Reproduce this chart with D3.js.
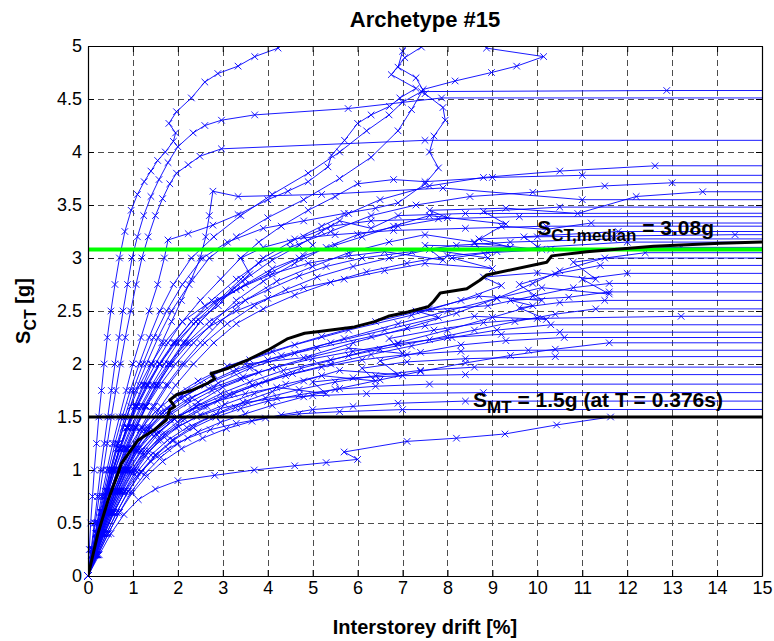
<!DOCTYPE html>
<html>
<head>
<meta charset="utf-8">
<script src="https://cdn.jsdelivr.net/npm/d3@7"></script>
<style>
  body { margin: 0; background: #fff; }
  svg { display: block; }
  text { font-family: "Liberation Sans", Arial, Helvetica, sans-serif; }
</style>
</head>
<body>
<svg id="chart" width="774" height="641"></svg>
<script>
// Axis ticks
const xTicks = [0, 1, 2, 3, 4, 5, 6, 7, 8, 9, 10, 11, 12, 13, 14, 15];
const yTicks = [0, 0.5, 1, 1.5, 2, 2.5, 3, 3.5, 4, 4.5, 5];

// Reference intensities [g]
const smtValue = 1.5;
const sctMedianValue = 3.08;

// IDA records that collapse above the median intensity: [drift %, Sa g]
const recordsUpper = [
  [[0,0],[0.03,0.25],[0.06,0.5],[0.1,0.75],[0.14,1.0],[0.19,1.25],[0.24,1.5],[0.3,1.75],[0.36,2.0],[0.43,2.25],[0.51,2.5],[0.6,2.75],[0.7,3.0],[0.82,3.25],[0.96,3.45],[1.1,3.6],[1.25,3.72],[1.4,3.82],[1.55,3.92],[1.72,4.0],[1.9,4.1],[1.95,4.18],[1.8,4.27],[1.97,4.38],[2.3,4.51],[2.6,4.66],[2.89,4.74],[3.34,4.81],[3.71,4.9],[4.23,4.98],[4.6,5.1],[5.5,5.4]],
  [[0,0],[0.07,0.25],[0.14,0.5],[0.21,0.75],[0.28,1.0],[0.36,1.25],[0.44,1.5],[0.52,1.75],[0.6,2.0],[0.69,2.25],[0.78,2.5],[0.88,2.75],[0.98,3.0],[1.1,3.2],[1.24,3.4],[1.4,3.58],[1.58,3.74],[1.78,3.9],[2.0,4.05],[2.34,4.18],[2.6,4.25],[2.97,4.3],[3.71,4.35],[5.79,4.41],[7.87,4.51],[40,4.51]],
  [[0,0],[0.08,0.25],[0.16,0.5],[0.25,0.75],[0.34,1.0],[0.43,1.25],[0.52,1.5],[0.62,1.75],[0.72,2.0],[0.83,2.25],[0.95,2.5],[1.07,2.75],[1.2,3.0],[1.34,3.2],[1.5,3.4],[1.66,3.56],[1.82,3.7],[1.97,3.8],[2.23,3.88],[2.49,3.96],[2.97,4.03],[7.5,4.11],[40,4.11]],
  [[0,0],[0.1,0.25],[0.2,0.5],[0.3,0.75],[0.42,1.0],[0.55,1.25],[0.7,1.5],[0.85,1.75],[1.0,2.0],[1.18,2.25],[1.36,2.5],[1.55,2.75],[1.7,3.0],[1.78,3.17],[2.23,3.23],[2.78,3.31],[3.34,3.41],[4.0,3.55],[4.45,3.63],[4.9,3.72],[5.34,3.86],[5.42,3.97],[5.71,4.11],[6.0,4.27],[6.3,4.35],[6.71,4.43],[6.94,4.51],[7.3,4.6],[6.75,4.73],[7.05,4.89],[7.42,4.99],[7.8,5.3]],
  [[0,0],[0.12,0.25],[0.24,0.5],[0.37,0.75],[0.5,1.0],[0.65,1.25],[0.82,1.5],[1.0,1.75],[1.22,2.0],[1.46,2.25],[1.75,2.5],[2.1,2.75],[2.55,3.0],[3.1,3.15],[3.9,3.28],[4.8,3.35],[5.7,3.42],[6.4,3.47],[6.9,3.52],[7.5,3.7],[7.8,3.85],[7.6,4.0],[7.7,4.15],[7.95,4.3],[7.9,4.42],[7.5,4.55],[7.3,4.7],[6.9,4.8],[7.0,4.95],[7.4,5.2]],
  [[0,0],[0.12,0.25],[0.25,0.5],[0.38,0.75],[0.52,1.0],[0.68,1.25],[0.86,1.5],[1.06,1.75],[1.3,2.0],[1.56,2.25],[1.86,2.5],[2.25,2.75],[2.7,3.0],[3.3,3.2],[4.0,3.38],[4.8,3.55],[5.6,3.75],[6.3,3.95],[6.9,4.2],[7.2,4.4],[7.46,4.59],[8.17,4.67],[8.98,4.75],[9.54,4.81],[10.14,4.9],[8.87,4.98],[8.5,5.2]],
  [[0,0],[0.1,0.25],[0.21,0.5],[0.33,0.75],[0.46,1.0],[0.6,1.25],[0.76,1.5],[0.94,1.75],[1.14,2.0],[1.36,2.25],[1.6,2.5],[1.9,2.75],[2.3,3.0],[2.8,3.2],[3.4,3.4],[4.1,3.6],[4.9,3.8],[5.6,4.0],[6.2,4.2],[6.7,4.35],[7.0,4.47],[7.42,4.57],[12.88,4.58],[40,4.58]],
  [[0,0],[0.09,0.2],[0.19,0.4],[0.3,0.6],[0.42,0.8],[0.55,1.0],[0.7,1.2],[0.88,1.4],[1.08,1.6],[1.32,1.8],[1.6,2.0],[1.95,2.2],[2.4,2.4],[2.9,2.6],[3.4,2.8],[3.9,3.0],[4.5,3.15],[5.2,3.3],[5.8,3.42],[6.5,3.55],[7.6,3.68],[8.8,3.76],[10.5,3.82],[12.62,3.87],[40,3.87]],
  [[0,0],[0.1,0.2],[0.21,0.4],[0.32,0.6],[0.44,0.8],[0.57,1.0],[0.72,1.2],[0.9,1.4],[1.1,1.6],[1.34,1.8],[1.6,2.0],[1.92,2.2],[2.3,2.4],[2.75,2.6],[3.3,2.8],[3.8,2.95],[4.5,3.1],[5.4,3.25],[6.3,3.4],[7.3,3.5],[8.5,3.58],[9.9,3.62],[11.5,3.68],[13.0,3.71],[40,3.71]],
  [[0,0],[0.11,0.2],[0.23,0.4],[0.36,0.6],[0.5,0.8],[0.66,1.0],[0.84,1.2],[1.05,1.4],[1.3,1.6],[1.6,1.8],[1.95,2.0],[2.35,2.2],[2.8,2.4],[3.3,2.6],[3.9,2.78],[4.6,2.95],[5.3,3.1],[6.0,3.22],[6.9,3.3],[8.0,3.38],[7.6,3.45],[9.3,3.47],[10.9,3.42],[12.2,3.58],[13.68,3.625],[40,3.625]],
  [[0,0],[0.1,0.2],[0.2,0.4],[0.31,0.6],[0.43,0.8],[0.56,1.0],[0.7,1.2],[0.86,1.4],[1.03,1.6],[1.22,1.8],[1.42,2.0],[1.64,2.2],[1.86,2.4],[2.08,2.6],[2.3,2.8],[2.5,3.0],[2.62,3.2],[2.7,3.4],[2.78,3.63],[3.34,3.58],[5.2,3.6],[7.9,3.66],[11.0,3.55],[40,3.55]],
  [[0,0],[0.12,0.2],[0.25,0.4],[0.39,0.6],[0.54,0.8],[0.7,1.0],[0.88,1.2],[1.08,1.4],[1.3,1.6],[1.55,1.8],[1.84,2.0],[2.15,2.2],[2.5,2.4],[2.95,2.6],[3.5,2.75],[4.1,2.9],[4.8,3.02],[5.5,3.12],[6.1,3.2],[6.8,3.3],[7.6,3.4],[9.3,3.32],[8.8,3.44],[10.5,3.48],[40,3.48]],
  [[0,0],[0.08,0.2],[0.17,0.4],[0.27,0.6],[0.38,0.8],[0.5,1.0],[0.63,1.2],[0.78,1.4],[0.95,1.6],[1.15,1.8],[1.4,2.0],[1.7,2.2],[2.1,2.4],[2.6,2.55],[3.3,2.7],[4.0,2.85],[4.7,3.0],[5.0,3.12],[4.8,3.2],[5.4,3.3],[6.3,3.35],[7.8,3.37],[9.6,3.39],[40,3.39]],
  [[0,0],[0.13,0.2],[0.27,0.4],[0.42,0.6],[0.58,0.8],[0.76,1.0],[0.96,1.2],[1.18,1.4],[1.44,1.6],[1.74,1.8],[2.1,2.0],[2.5,2.2],[2.95,2.4],[3.5,2.6],[4.2,2.78],[5.0,2.92],[5.8,3.05],[6.7,3.15],[7.5,3.22],[8.6,3.15],[9.2,3.3],[10.2,3.27],[11.2,3.33],[40,3.33]],
  [[0,0],[0.1,0.2],[0.21,0.4],[0.33,0.6],[0.46,0.8],[0.6,1.0],[0.76,1.2],[0.95,1.4],[1.17,1.6],[1.42,1.8],[1.7,2.0],[2.0,2.2],[2.4,2.4],[2.9,2.55],[3.2,2.7],[3.6,2.85],[3.4,3.0],[3.9,3.1],[4.6,3.18],[5.5,3.22],[6.8,3.26],[8.4,3.28],[10.2,3.3],[40,3.3]],
  [[0,0],[0.14,0.2],[0.29,0.4],[0.45,0.6],[0.62,0.8],[0.8,1.0],[1.0,1.2],[1.22,1.4],[1.48,1.6],[1.78,1.8],[2.15,2.0],[2.6,2.2],[3.1,2.38],[3.7,2.55],[4.4,2.7],[5.1,2.82],[5.9,2.92],[6.7,3.0],[7.6,3.08],[8.9,3.0],[8.6,3.14],[10.1,3.08],[9.7,3.2],[11.8,3.25],[40,3.25]],
  [[0,0],[0.09,0.2],[0.19,0.4],[0.3,0.6],[0.42,0.8],[0.55,1.0],[0.7,1.2],[0.87,1.4],[1.07,1.6],[1.3,1.8],[1.58,2.0],[1.9,2.2],[2.3,2.4],[2.8,2.58],[3.4,2.72],[4.1,2.85],[4.9,2.95],[5.8,3.02],[6.6,3.06],[7.9,2.98],[7.5,3.12],[9.4,3.1],[8.7,3.18],[10.0,3.2],[14.4,3.22],[40,3.22]],
  [[0,0],[0.15,0.2],[0.31,0.4],[0.48,0.6],[0.66,0.8],[0.86,1.0],[1.08,1.2],[1.33,1.4],[1.62,1.6],[1.95,1.8],[2.35,2.0],[2.8,2.2],[3.3,2.38],[3.9,2.52],[4.6,2.65],[5.4,2.77],[6.2,2.87],[7.1,2.95],[8.0,3.02],[9.1,3.06],[10.0,3.1],[12.0,3.15],[40,3.15]],
  [[0,0],[0.11,0.2],[0.23,0.4],[0.36,0.6],[0.5,0.8],[0.65,1.0],[0.82,1.2],[1.02,1.4],[1.25,1.6],[1.52,1.8],[1.85,2.0],[2.25,2.2],[2.7,2.35],[3.3,2.5],[4.0,2.62],[4.8,2.72],[5.7,2.8],[6.6,2.88],[7.5,2.95],[9.0,2.9],[8.1,3.0],[8.9,3.05],[10.3,3.08],[13.2,3.1],[40,3.1]],
  [[0,0],[0.1,0.2],[0.2,0.4],[0.31,0.6],[0.43,0.8],[0.56,1.0],[0.7,1.2],[0.86,1.4],[1.04,1.6],[1.25,1.8],[1.5,2.0],[1.78,2.2],[2.1,2.4],[2.5,2.6],[2.95,2.8],[3.4,3.0],[3.8,3.15],[4.3,3.3],[4.9,3.45],[5.5,3.58],[6.0,3.7],[6.8,3.74],[7.5,3.72],[9.0,3.76],[11.0,3.78],[40,3.78]],
  [[0,0],[0.12,0.2],[0.25,0.4],[0.38,0.6],[0.52,0.8],[0.68,1.0],[0.86,1.2],[1.06,1.4],[1.28,1.6],[1.52,1.8],[1.8,2.0],[2.12,2.2],[2.5,2.4],[2.95,2.6],[3.5,2.8],[4.1,2.98],[4.7,3.12],[5.2,3.25],[5.6,3.35],[6.3,3.28],[6.9,3.4],[8.4,3.42],[40,3.43]],
  [[0,0],[0.1,0.2],[0.2,0.4],[0.32,0.6],[0.45,0.8],[0.6,1.0],[0.78,1.2],[0.98,1.4],[1.2,1.6],[1.46,1.8],[1.78,2.0],[2.2,2.2],[2.7,2.4],[3.3,2.56],[4.0,2.7],[4.7,2.83],[5.3,2.92],[6.1,3.0],[7.2,3.06],[8.2,3.12],[9.4,3.15],[11.7,3.18],[40,3.18]]
];

// IDA records that collapse below the median intensity: [drift %, Sa g]
const recordsLower = [
  [[0,0],[0.13,0.2],[0.27,0.4],[0.43,0.6],[0.61,0.8],[0.82,1.0],[1.07,1.2],[1.38,1.4],[1.76,1.58],[2.2,1.75],[2.8,1.9],[3.6,2.04],[4.6,2.18],[5.8,2.32],[7.2,2.46],[8.3,2.6],[9.2,2.74],[8.8,2.82],[10.0,2.86],[11.3,2.8],[10.8,2.96],[12.4,3.05],[40,3.05]],
  [[0,0],[0.16,0.2],[0.33,0.4],[0.52,0.6],[0.73,0.8],[0.97,1.0],[1.25,1.18],[1.58,1.35],[1.98,1.5],[2.45,1.64],[3.0,1.78],[3.8,1.92],[3.5,2.0],[4.8,2.06],[5.9,2.2],[7.1,2.34],[8.2,2.48],[9.1,2.62],[9.9,2.76],[10.5,2.88],[11.5,3.0],[40,3.0]],
  [[0,0],[0.1,0.2],[0.21,0.4],[0.34,0.6],[0.49,0.8],[0.67,1.0],[0.89,1.2],[1.16,1.38],[1.5,1.55],[1.92,1.7],[2.45,1.84],[3.1,1.98],[4.1,2.12],[5.2,2.26],[6.4,2.4],[7.6,2.52],[8.7,2.64],[10.1,2.6],[9.6,2.75],[10.4,2.85],[11.4,2.93],[40,2.93]],
  [[0,0],[0.14,0.2],[0.29,0.4],[0.46,0.6],[0.65,0.8],[0.87,1.0],[1.13,1.2],[1.45,1.38],[1.84,1.54],[2.32,1.68],[2.9,1.82],[3.6,1.96],[4.6,2.1],[5.7,2.24],[6.9,2.38],[8.0,2.5],[9.1,2.62],[10.1,2.72],[11.6,2.66],[11.0,2.8],[12.0,2.855],[40,2.855]],
  [[0,0],[0.12,0.2],[0.25,0.4],[0.4,0.6],[0.57,0.8],[0.77,1.0],[1.01,1.2],[1.3,1.38],[1.66,1.54],[2.1,1.68],[2.65,1.82],[3.3,1.95],[4.3,2.08],[5.4,2.2],[6.6,2.32],[7.8,2.44],[7.3,2.5],[8.9,2.55],[9.9,2.64],[10.8,2.72],[11.6,2.76],[40,2.76]],
  [[0,0],[0.18,0.2],[0.37,0.4],[0.58,0.6],[0.81,0.8],[1.07,1.0],[1.37,1.18],[1.72,1.34],[2.15,1.48],[2.65,1.6],[3.25,1.72],[3.95,1.84],[4.75,1.96],[5.8,2.08],[6.9,2.2],[8.0,2.32],[9.0,2.44],[9.9,2.55],[9.4,2.6],[10.7,2.63],[11.6,2.68],[40,2.68]],
  [[0,0],[0.11,0.2],[0.23,0.4],[0.37,0.6],[0.53,0.8],[0.72,1.0],[0.95,1.2],[1.24,1.38],[1.6,1.54],[2.05,1.68],[2.6,1.8],[3.25,1.92],[4.0,2.04],[5.1,2.15],[6.3,2.26],[7.5,2.36],[8.6,2.45],[10.2,2.42],[9.6,2.53],[10.5,2.58],[11.5,2.6],[40,2.6]],
  [[0,0],[0.15,0.2],[0.31,0.4],[0.49,0.6],[0.69,0.8],[0.92,1.0],[1.19,1.18],[1.52,1.34],[1.92,1.48],[2.4,1.6],[2.95,1.72],[3.6,1.83],[4.35,1.94],[5.4,2.04],[6.5,2.14],[7.6,2.23],[8.6,2.32],[9.5,2.4],[10.4,2.47],[11.3,2.52],[40,2.52]],
  [[0,0],[0.13,0.2],[0.27,0.4],[0.43,0.6],[0.61,0.8],[0.82,1.0],[1.07,1.18],[1.38,1.35],[1.76,1.5],[2.22,1.63],[2.76,1.75],[3.4,1.86],[4.1,1.96],[4.9,2.06],[5.8,2.15],[7.0,2.1],[6.7,2.24],[7.7,2.32],[8.8,2.39],[10.0,2.43],[13.2,2.45],[40,2.45]],
  [[0,0],[0.17,0.2],[0.35,0.4],[0.55,0.6],[0.77,0.8],[1.02,1.0],[1.31,1.18],[1.66,1.34],[2.08,1.48],[2.58,1.6],[3.15,1.71],[3.8,1.81],[4.55,1.91],[5.4,2.0],[6.3,2.09],[7.2,2.17],[8.1,2.25],[9.1,2.32],[10.3,2.37],[40,2.37]],
  [[0,0],[0.12,0.2],[0.25,0.4],[0.4,0.6],[0.58,0.8],[0.79,1.0],[1.04,1.2],[1.35,1.38],[1.74,1.54],[2.22,1.67],[2.8,1.78],[3.45,1.88],[4.2,1.97],[5.0,2.05],[5.9,2.12],[6.9,2.19],[8.0,2.25],[9.2,2.28],[10.5,2.3],[40,2.3]],
  [[0,0],[0.2,0.2],[0.41,0.4],[0.64,0.6],[0.89,0.8],[1.17,0.98],[1.49,1.14],[1.87,1.28],[2.32,1.41],[2.85,1.53],[3.45,1.64],[4.1,1.74],[4.8,1.84],[5.6,1.94],[6.9,1.9],[6.5,2.03],[7.4,2.11],[8.3,2.18],[9.3,2.22],[10.6,2.25],[40,2.25]],
  [[0,0],[0.14,0.2],[0.29,0.4],[0.46,0.6],[0.66,0.8],[0.89,1.0],[1.17,1.18],[1.51,1.34],[1.93,1.48],[2.42,1.6],[3.0,1.7],[3.65,1.8],[4.4,1.89],[5.2,1.97],[6.1,2.04],[7.1,2.09],[8.3,2.12],[9.8,2.13],[40,2.13]],
  [[0,0],[0.16,0.2],[0.33,0.4],[0.52,0.6],[0.74,0.8],[0.99,0.98],[1.28,1.14],[1.62,1.28],[2.02,1.41],[2.5,1.52],[3.05,1.62],[3.7,1.72],[4.4,1.81],[5.2,1.89],[6.4,1.84],[6.1,1.96],[7.1,2.02],[8.4,2.05],[10.4,2.07],[40,2.07]],
  [[0,0],[0.18,0.2],[0.37,0.4],[0.58,0.6],[0.82,0.8],[1.09,0.98],[1.4,1.14],[1.77,1.28],[2.2,1.4],[2.7,1.5],[3.28,1.59],[3.95,1.68],[4.7,1.76],[5.5,1.83],[6.4,1.89],[7.4,1.94],[8.6,1.97],[40,1.975]],
  [[0,0],[0.13,0.2],[0.27,0.4],[0.43,0.6],[0.62,0.8],[0.84,1.0],[1.1,1.18],[1.43,1.34],[1.84,1.47],[2.32,1.57],[2.88,1.65],[3.5,1.72],[4.2,1.78],[5.3,1.72],[5.0,1.83],[5.9,1.87],[7.0,1.89],[8.4,1.9],[40,1.9]],
  [[0,0],[0.2,0.2],[0.41,0.4],[0.64,0.6],[0.9,0.8],[1.19,0.98],[1.52,1.14],[1.9,1.28],[2.35,1.4],[2.85,1.5],[3.4,1.58],[4.0,1.65],[4.7,1.71],[5.5,1.76],[6.4,1.79],[7.6,1.81],[40,1.81]],
  [[0,0],[0.15,0.2],[0.31,0.4],[0.49,0.6],[0.7,0.8],[0.94,0.98],[1.22,1.14],[1.56,1.28],[1.96,1.4],[2.42,1.5],[2.95,1.58],[3.55,1.64],[4.2,1.68],[5.0,1.7],[6.2,1.72],[8.8,1.73],[40,1.73]],
  [[0,0],[0.22,0.2],[0.45,0.4],[0.7,0.6],[0.98,0.78],[1.3,0.94],[1.66,1.08],[2.08,1.2],[2.55,1.3],[3.08,1.39],[3.65,1.46],[4.3,1.52],[5.0,1.57],[5.9,1.6],[6.9,1.63],[8.4,1.65],[40,1.65]],
  [[0,0],[0.17,0.2],[0.35,0.4],[0.56,0.6],[0.8,0.78],[1.08,0.94],[1.4,1.08],[1.78,1.2],[2.22,1.3],[2.72,1.38],[3.3,1.44],[3.95,1.49],[4.7,1.53],[5.6,1.55],[7.0,1.57],[40,1.575]],
  [[0,0],[0.25,0.2],[0.51,0.4],[0.8,0.58],[1.12,0.72],[1.5,0.82],[2.0,0.9],[2.82,0.95],[3.7,1.0],[4.6,1.04],[5.3,1.07],[6.0,1.1],[5.7,1.17],[7.1,1.27],[8.2,1.3],[9.28,1.34],[10.43,1.425],[11.63,1.5],[40,1.5]],
  [[0,0],[0.22,0.2],[0.45,0.4],[0.7,0.6],[0.97,0.8],[1.28,0.97],[1.62,1.12],[2.0,1.25],[2.45,1.36],[2.95,1.45],[3.5,1.53],[4.1,1.61],[4.8,1.69],[5.6,1.77],[6.5,1.85],[7.4,1.93],[8.4,2.01],[9.4,2.08],[10.4,2.14],[11.6,2.2],[40,2.2]]
];

// Median IDA curve: [drift %, Sa g]
const medianCurve = [[0,0],[0.22,0.4],[0.45,0.72],[0.67,0.97],[0.74,1.06],[1.11,1.28],[1.48,1.38],[1.74,1.47],[1.82,1.57],[1.93,1.6],[1.82,1.66],[1.97,1.71],[2.3,1.75],[2.67,1.82],[2.82,1.86],[2.74,1.91],[3.12,1.96],[3.56,2.04],[4.0,2.13],[4.45,2.24],[4.82,2.29],[5.19,2.31],[5.93,2.35],[6.38,2.4],[6.68,2.45],[7.12,2.49],[7.57,2.54],[7.69,2.59],[7.84,2.67],[8.43,2.71],[8.72,2.79],[8.87,2.84],[10.21,2.96],[10.32,3.02],[11.1,3.06],[12.59,3.11],[14.07,3.14],[15,3.15]];

// Annotation anchors [drift %, Sa g]
const sctLabelAnchor = [10.0, 3.27];
const smtLabelAnchor = [8.57, 1.65];

const svg = d3.select("#chart");
const plot = { left: 88, right: 762, top: 46, bottom: 576 };

const x = d3.scaleLinear().domain([0, 15]).range([plot.left, plot.right]);
const y = d3.scaleLinear().domain([0, 5]).range([plot.bottom, plot.top]);

svg.append("rect").attr("width", 774).attr("height", 641).attr("fill", "#fff");

const defs = svg.append("defs");
defs.append("clipPath").attr("id", "plotClip")
  .append("rect")
  .attr("x", plot.left).attr("y", plot.top)
  .attr("width", plot.right - plot.left).attr("height", plot.bottom - plot.top);
defs.append("clipPath").attr("id", "markerClip")
  .append("rect")
  .attr("x", plot.left - 5).attr("y", plot.top)
  .attr("width", plot.right - plot.left + 5).attr("height", plot.bottom - plot.top + 5);

// Dashed grid
const grid = svg.append("g").attr("stroke", "#4d4d4d").attr("stroke-width", 1)
  .attr("stroke-dasharray", "6,4");
grid.selectAll("line.gx").data(xTicks.filter(t => t > 0 && t < 15)).join("line")
  .attr("x1", d => Math.round(x(d)) + 0.5).attr("x2", d => Math.round(x(d)) + 0.5)
  .attr("y1", y(0)).attr("y2", y(5));
grid.selectAll("line.gy").data(yTicks.filter(t => t > 0 && t < 5)).join("line")
  .attr("y1", d => Math.round(y(d)) + 0.5).attr("y2", d => Math.round(y(d)) + 0.5)
  .attr("x1", x(0)).attr("x2", x(15));

// IDA records
const allRecords = recordsUpper.concat(recordsLower);
const line = d3.line().x(d => x(d[0])).y(d => y(d[1]));

const curves = svg.append("g").attr("clip-path", "url(#plotClip)");
curves.selectAll("path").data(allRecords).join("path")
  .attr("d", line)
  .attr("fill", "none")
  .attr("stroke", "#0000ff")
  .attr("stroke-width", 0.9)
  .attr("stroke-linejoin", "round");

const marks = svg.append("g").attr("clip-path", "url(#markerClip)")
  .attr("stroke", "#0000ff").attr("stroke-width", 0.9).attr("fill", "none");
const markerPoints = allRecords.flatMap(r => r.filter(p => p[0] <= 15.2));
marks.selectAll("path").data(markerPoints).join("path")
  .attr("transform", d => `translate(${x(d[0])},${y(d[1])})`)
  .attr("d", "M-3.3,-3.3L3.3,3.3M-3.3,3.3L3.3,-3.3");

// Reference lines and median curve
const refs = svg.append("g").attr("clip-path", "url(#plotClip)");
refs.append("line")
  .attr("x1", x(0)).attr("x2", x(15))
  .attr("y1", y(sctMedianValue)).attr("y2", y(sctMedianValue))
  .attr("stroke", "#00ff00").attr("stroke-width", 4);
refs.append("path").datum(medianCurve)
  .attr("d", line).attr("fill", "none")
  .attr("stroke", "#000").attr("stroke-width", 3).attr("stroke-linejoin", "round");
refs.append("line")
  .attr("x1", x(0)).attr("x2", x(15))
  .attr("y1", y(smtValue)).attr("y2", y(smtValue))
  .attr("stroke", "#000").attr("stroke-width", 3);

// Annotations
function subLabel(anchor, main, sub, rest) {
  const t = svg.append("text")
    .attr("x", x(anchor[0])).attr("y", y(anchor[1]))
    .attr("font-weight", "bold").attr("font-size", 21).attr("fill", "#000")
    .attr("dominant-baseline", "middle");
  t.append("tspan").text(main);
  t.append("tspan").attr("font-size", 17).attr("dy", 8).text(sub);
  t.append("tspan").attr("dy", -8).text(rest);
}
subLabel(sctLabelAnchor, "S", "CT,median", " = " + sctMedianValue.toFixed(2) + "g");
subLabel(smtLabelAnchor, "S", "MT", " = " + smtValue + "g (at T = 0.376s)");

// Axes
const fmt = d => String(d);
const axB = svg.append("g").attr("transform", `translate(0,${plot.bottom})`)
  .call(d3.axisBottom(x).tickValues(xTicks).tickFormat(fmt).tickSizeInner(-6).tickSizeOuter(0).tickPadding(5));
const axL = svg.append("g").attr("transform", `translate(${plot.left},0)`)
  .call(d3.axisLeft(y).tickValues(yTicks).tickFormat(fmt).tickSizeInner(-6).tickSizeOuter(0).tickPadding(6));
const axT = svg.append("g").attr("transform", `translate(0,${plot.top})`)
  .call(d3.axisTop(x).tickValues(xTicks).tickFormat("").tickSizeInner(-6).tickSizeOuter(0));
const axR = svg.append("g").attr("transform", `translate(${plot.right},0)`)
  .call(d3.axisRight(y).tickValues(yTicks).tickFormat("").tickSizeInner(-6).tickSizeOuter(0));
[axB, axL, axT, axR].forEach(a => {
  a.select(".domain").attr("stroke", "#000").attr("stroke-width", 1.2);
  a.selectAll(".tick line").attr("stroke", "#000");
  a.selectAll("text").attr("font-size", 18).attr("fill", "#000")
    .attr("font-family", "'Liberation Sans', Arial, sans-serif");
});

// Titles
svg.append("text").attr("x", (plot.left + plot.right) / 2).attr("y", 27)
  .attr("text-anchor", "middle").attr("font-weight", "bold").attr("font-size", 22)
  .text("Archetype #15");
svg.append("text").attr("x", (plot.left + plot.right) / 2).attr("y", 634)
  .attr("text-anchor", "middle").attr("font-weight", "bold").attr("font-size", 20)
  .text("Interstorey drift [%]");
const yl = svg.append("text")
  .attr("transform", `translate(30,${(plot.top + plot.bottom) / 2}) rotate(-90)`)
  .attr("text-anchor", "middle").attr("font-weight", "bold").attr("font-size", 20);
yl.append("tspan").text("S");
yl.append("tspan").attr("font-size", 16).attr("dy", 6).text("CT");
yl.append("tspan").attr("dy", -6).text(" [g]");
</script>
</body>
</html>
